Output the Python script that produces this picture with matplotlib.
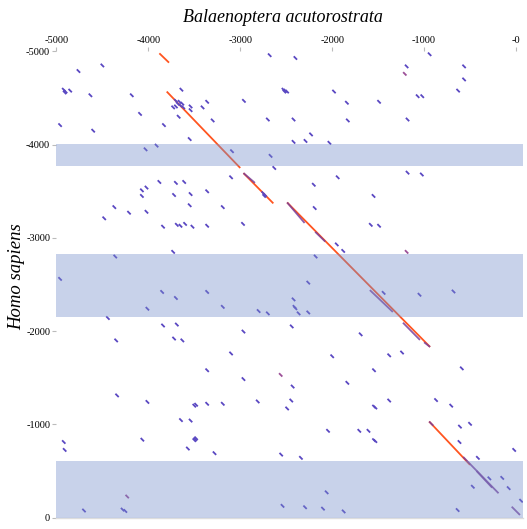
import matplotlib.pyplot as plt

# Dot plot of Balaenoptera acutorostrata (x) vs Homo sapiens (y), positions in bp

x_ticks = [-5000, -4000, -3000, -2000, -1000, 0]
x_tick_labels = ['-5000', '-4000', '-3000', '-2000', '-1000', '-0']
y_ticks = [-5000, -4000, -3000, -2000, -1000, 0]
y_tick_labels = ['-5000', '-4000', '-3000', '-2000', '-1000', '0']

# shaded regions on the Homo sapiens axis (start, end)
bands = [(-4005, -3770), (-2830, -2155), (-606, 0)]

# long collinear matches: (x0, y0, x1, y1)
main_lines = [
    (-3880, -4980, -3775, -4880),
    (-3800, -4570, -3000, -3750),
    (-2965, -3695, -2640, -3370),
    (-2490, -3380, -935, -1830),
    (-945, -1030, -500, -565),
]

# parts of the matches that also hit the other strand
dark_lines = [
    (-2965, -3695, -2840, -3590),
    (-2490, -3380, -2300, -3160),
    (-2185, -3065, -2075, -2960),
    (-1590, -2440, -1340, -2205),
    (-1230, -2090, -1045, -1905),
    (-1000, -1880, -935, -1830),
    (-945, -1030, -900, -985),
    (-575, -650, -190, -260),
    (-430, -500, -260, -320),
    (-47, -116, 43, -27),
]

# short hits, centre positions
hits = [
    (-4500, -4850), (-4760, -4790), (-4920, -4590), (-4900, -4570), (-4910, -4560),
    (-4850, -4580), (-4630, -4530), (-4180, -4530), (-3640, -4590), (-3360, -4460),
    (-3700, -4470), (-3680, -4440), (-3650, -4420), (-3620, -4400), (-3700, -4410),
    (-3660, -4460), (-3630, -4440), (-3730, -4400), (-3540, -4410), (-3410, -4400),
    (-3540, -4370), (-4090, -4330), (-3670, -4300), (-4960, -4210), (-3830, -4210),
    (-4600, -4150), (-3550, -4060), (-4030, -3950), (-3910, -3990), (-3880, -3600),
    (-3700, -3590), (-3610, -3600), (-3360, -3500), (-4070, -3510), (-4020, -3540),
    (-4070, -3450), (-3720, -3460), (-3540, -3470), (-3550, -3350), (-4370, -3330),
    (-4210, -3270), (-4020, -3280), (-4480, -3210), (-3840, -3120), (-3690, -3140),
    (-3650, -3130), (-3600, -3150), (-3520, -3120), (-3360, -3130), (-3730, -2850),
    (-4360, -2800), (-4960, -2560),
    (-2680, -4960), (-2400, -4930), (-2530, -4590), (-2510, -4580), (-2490, -4570),
    (-2520, -4570), (-1980, -4570), (-2960, -4470), (-1840, -4450), (-3300, -4260),
    (-2700, -4270), (-2420, -4270), (-1830, -4260), (-2230, -4110), (-2420, -4030),
    (-2290, -4040), (-2030, -4020), (-3090, -3930), (-2670, -3880), (-2630, -3750),
    (-3100, -3650), (-1940, -3650), (-2200, -3570), (-2750, -3480), (-2730, -3460),
    (-2740, -3450), (-3190, -3330), (-2190, -3320), (-2970, -3150), (-1950, -2930),
    (-1880, -2860), (-2180, -2800), (-2260, -2520),
    (-940, -4970), (-1190, -4840), (-565, -4840), (-565, -4700), (-630, -4580),
    (-1070, -4520), (-1020, -4520), (-1490, -4460), (-1180, -4270), (-1180, -3700),
    (-1025, -3680), (-1550, -3450), (-1580, -3140), (-1490, -3130),
    (-3850, -2420), (-3700, -2355), (-3360, -2420), (-4010, -2240), (-4440, -2140),
    (-3840, -2060), (-3690, -2070), (-4350, -1900), (-3720, -1920), (-3630, -1900),
    (-3360, -1580), (-4340, -1310), (-4010, -1240), (-3500, -1200), (-3480, -1210),
    (-3360, -1220), (-3645, -1045), (-3540, -1040), (-4920, -810), (-4065, -835),
    (-3490, -840), (-3480, -850), (-3500, -830), (-3570, -740), (-4910, -725),
    (-4700, -75), (-4250, -70), (-4280, -85),
    (-2420, -2340), (-3190, -2260), (-2400, -2245), (-2410, -2260), (-2800, -2215),
    (-2700, -2190), (-2365, -2190), (-2260, -2200), (-2440, -2050), (-2965, -1995),
    (-1690, -1965), (-3100, -1760), (-2000, -1730), (-2965, -1485), (-2430, -1405),
    (-1835, -1445), (-3190, -1220), (-2810, -1245), (-2445, -1255), (-2490, -1170),
    (-2045, -930), (-1705, -930), (-3280, -690), (-2555, -675), (-2340, -640),
    (-2060, -270), (-2540, -125), (-2295, -110), (-2100, -95), (-1875, -65),
    (-1440, -2410), (-1050, -2390), (-680, -2425), (-1380, -1740), (-1240, -1770),
    (-1545, -1580), (-590, -1600), (-1380, -1255), (-1545, -1190), (-1530, -1180),
    (-870, -1260), (-705, -1200), (-1605, -930), (-1545, -830), (-1530, -820),
    (-610, -975), (-500, -1005), (-615, -810), (-20, -725), (-415, -640),
    (-290, -420), (-150, -425), (-470, -330), (-80, -315), (55, -180), (-635, -80),
]

# hits found on both strands
mixed_hits = [(-1210, -4760), (-1190, -2850), (-4230, -225), (-2560, -1530)]

hit_len = 36

plt.rcParams['font.family'] = ['Liberation Serif', 'DejaVu Serif']

fig = plt.figure(figsize=(5.27, 5.29), dpi=100)
ax = fig.add_axes([56.4 / 527, 1 - 517.5 / 529, (523 - 56.4) / 527, (517.5 - 51) / 529])

for x0, y0, x1, y1 in main_lines:
    ax.plot([x0, x1], [y0, y1], color='#ff5520', lw=1.3, solid_capstyle='butt', zorder=2)
for x0, y0, x1, y1 in dark_lines:
    ax.plot([x0, x1], [y0, y1], color='#7a3f9a', lw=1.3, alpha=0.85, solid_capstyle='butt', zorder=2)

h = hit_len / 2
for x, y in hits:
    ax.plot([x - h, x + h], [y - h, y + h], color='#5a48c2', lw=1.3, solid_capstyle='butt', zorder=2)
for x, y in mixed_hits:
    ax.plot([x - h, x + h], [y - h, y + h], color='#9c5098', lw=1.3, solid_capstyle='butt', zorder=2)

# shaded regions drawn over the hits
for y0, y1 in bands:
    ax.axhspan(y0, y1, color=(118 / 255, 143 / 255, 203 / 255), alpha=0.4, lw=0, zorder=3)

ax.set_xlim(-5000, 76)
ax.set_ylim(0, -5005)

ax.xaxis.tick_top()
ax.set_xticks(x_ticks)
ax.set_xticklabels(x_tick_labels)
ax.set_yticks(y_ticks)
ax.set_yticklabels(y_tick_labels)
ax.tick_params(axis='both', direction='out', length=3, width=0.8, color='#bbbbbb',
               labelsize=7.5, labelcolor='black', pad=1.5)

for side in ['top', 'left', 'right']:
    ax.spines[side].set_visible(False)
ax.spines['bottom'].set_color('#dddddd')
ax.spines['bottom'].set_linewidth(1)

fig.text(283 / 527, 1 - 18 / 529, 'Balaenoptera acutorostrata', style='italic',
         fontsize=13, ha='center', va='center')
fig.text(17 / 527, 1 - 277 / 529, 'Homo sapiens', style='italic', rotation=90,
         fontsize=13.5, ha='center', va='center')

fig.savefig('out.png', dpi=100)
